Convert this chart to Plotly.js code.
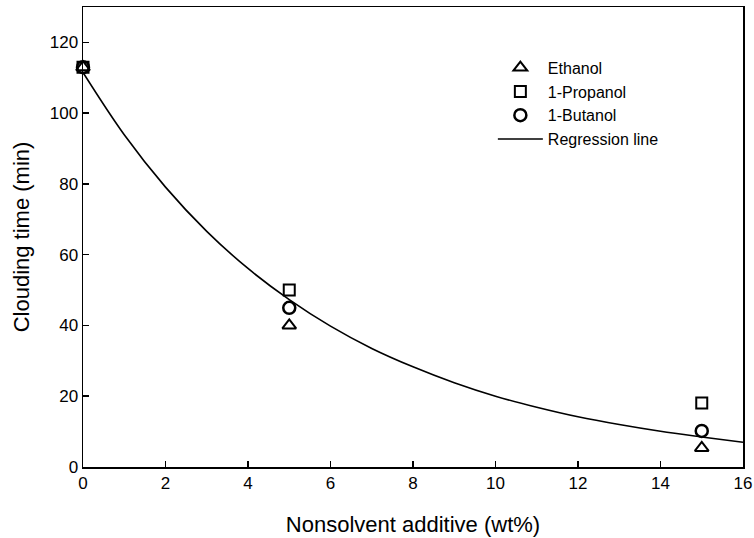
<!DOCTYPE html>
<html>
<head>
<meta charset="utf-8">
<script src="https://cdn.plot.ly/plotly-3.0.1.min.js"></script>
<style>html,body{margin:0;padding:0;background:#fff;}#chart{width:754px;height:538px;}</style>
</head>
<body>
<div id="chart"></div>
<script>
// Measured points (nonsolvent additive wt%, clouding time min)
const additive = [0, 5, 15];
const ethanol = [113, 40, 5.4];
const propanol = [113, 50, 18.1];
const butanol = [113, 45, 10.2];

// Regression curve, values
const regX = [0, 1, 2, 3, 4, 5, 6, 7, 8, 9, 10, 11, 12, 13, 14, 15, 16];
const regY = [111.5, 93.9, 79.1, 66.6, 56.1, 47.3, 39.8, 33.5, 28.3, 23.8, 20.0, 16.9, 14.2, 12.0, 10.1, 8.5, 7.0];

const xTicks = [0, 2, 4, 6, 8, 10, 12, 14, 16];
const yTicks = [0, 20, 40, 60, 80, 100, 120];

const font = "Liberation Sans, Arial, Helvetica, sans-serif";

const traces = [
  {x: additive, y: ethanol, name: 'Ethanol', mode: 'markers', type: 'scatter', cliponaxis: false,
   marker: {symbol: 'triangle-up-open', size: 12, color: '#000', line: {width: 2, color: '#000'}}},
  {x: additive, y: propanol, name: '1-Propanol', mode: 'markers', type: 'scatter', cliponaxis: false,
   marker: {symbol: 'square-open', size: 11, color: '#000', line: {width: 2, color: '#000'}}},
  {x: additive, y: butanol, name: '1-Butanol', mode: 'markers', type: 'scatter', cliponaxis: false,
   marker: {symbol: 'circle-open', size: 12, color: '#000', line: {width: 2.5, color: '#000'}}},
  {x: regX, y: regY, name: 'Regression line', mode: 'lines', type: 'scatter',
   line: {color: '#000', width: 1.6, shape: 'spline'}}
];

const layout = {
  width: 754, height: 538,
  margin: {l: 83, r: 11, t: 7, b: 71},
  paper_bgcolor: '#fff', plot_bgcolor: '#fff',
  font: {family: font, color: '#000', size: 17},
  showlegend: true,
  legend: {x: 0.621, y: 0.905, xanchor: 'left', yanchor: 'top', bgcolor: 'rgba(0,0,0,0)',
           font: {family: font, size: 16, color: '#000'}, tracegroupgap: 0, itemwidth: 45},
  xaxis: {
    range: [0, 16], tickvals: xTicks, ticktext: xTicks.map(String),
    ticks: 'inside', ticklen: 6, tickwidth: 1.5, tickcolor: '#000',
    showline: true, linecolor: '#000', linewidth: 1.5, mirror: true,
    showgrid: false, zeroline: false,
    tickfont: {family: font, size: 17, color: '#000'},
    title: {text: 'Nonsolvent additive (wt%)', font: {family: font, size: 22, color: '#000'}, standoff: 24}
  },
  yaxis: {
    range: [0, 130], tickvals: yTicks, ticktext: yTicks.map(String),
    ticks: 'inside', ticklen: 6, tickwidth: 1.5, tickcolor: '#000',
    showline: true, linecolor: '#000', linewidth: 1.5, mirror: true,
    showgrid: false, zeroline: false,
    tickfont: {family: font, size: 17, color: '#000'},
    title: {text: 'Clouding time (min)', font: {family: font, size: 22, color: '#000'}, standoff: 14}
  }
};

Plotly.newPlot('chart', traces, layout, {displayModeBar: false, staticPlot: true});
</script>
</body>
</html>
